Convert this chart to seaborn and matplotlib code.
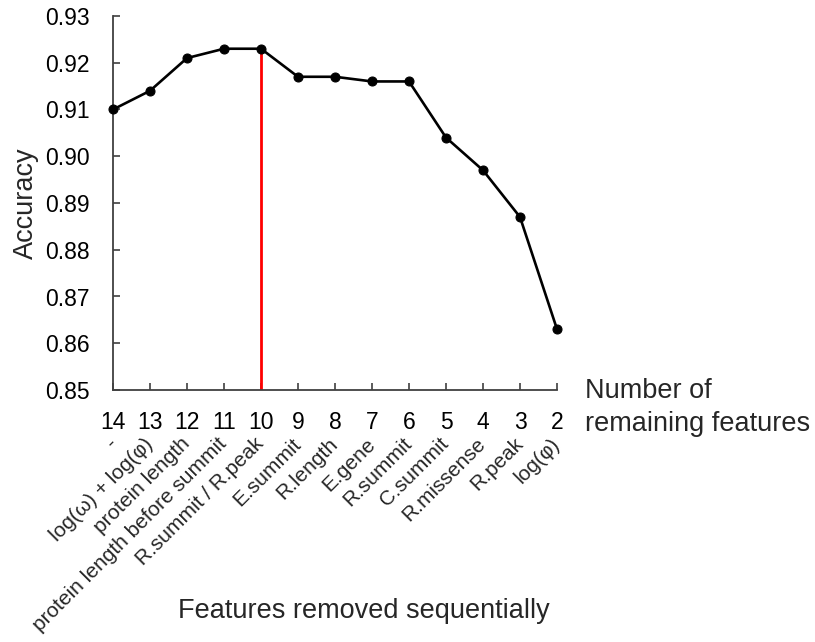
import matplotlib
matplotlib.use("Agg")
import matplotlib.pyplot as plt
import matplotlib.transforms as mtransforms
import seaborn as sns
import pandas as pd

# Number of features left in the model after each elimination step
remaining = [14, 13, 12, 11, 10, 9, 8, 7, 6, 5, 4, 3, 2]
# Feature dropped at each step
removed = ["-", "log(\u03c9) + log(\u03c6)", "protein length",
           "protein length before summit", "R.summit / R.peak", "E.summit",
           "R.length", "E.gene", "R.summit", "C.summit", "R.missense",
           "R.peak", "log(\u03c6)"]
# Classification accuracy at each step
accuracy = [0.910, 0.914, 0.921, 0.923, 0.923, 0.917, 0.917, 0.916, 0.916,
            0.904, 0.897, 0.887, 0.863]
best_n = 10
y_ticks = [0.85, 0.86, 0.87, 0.88, 0.89, 0.90, 0.91, 0.92, 0.93]

df = pd.DataFrame({"remaining": remaining, "accuracy": accuracy,
                   "removed": removed})

sns.set_style("ticks")
plt.rcParams["font.family"] = ["Liberation Sans", "DejaVu Sans"]

fig = plt.figure(figsize=(8.15, 6.42), dpi=100)
ax = fig.add_axes([113 / 815, 1 - 390 / 642, 444 / 815, 374 / 642])

best_acc = df.loc[df["remaining"] == best_n, "accuracy"].iloc[0]
ax.vlines(best_n, y_ticks[0], best_acc, color="red", linewidth=2, zorder=1)

sns.lineplot(data=df, x="remaining", y="accuracy", ax=ax, color="black",
             linewidth=1.9, marker="o", markersize=6.5, markeredgecolor="black",
             zorder=3, clip_on=False)

ax.set_xlim(14, 2)
ax.set_ylim(y_ticks[0], y_ticks[-1])
ax.set_xticks(remaining)
ax.set_xticklabels([str(n) for n in remaining])
ax.set_yticks(y_ticks)
ax.set_yticklabels([f"{v:.2f}" for v in y_ticks])

sns.despine(ax=ax)
for side in ("left", "bottom"):
    ax.spines[side].set_color("#404040")
    ax.spines[side].set_linewidth(1.3)

ax.tick_params(axis="both", direction="in", length=5, width=1.2,
               color="#404040", labelsize=16.5, labelcolor="black")
ax.tick_params(axis="y", pad=17)
ax.tick_params(axis="x", pad=15)

ax.set_xlabel("")
ax.set_ylabel("Accuracy", fontsize=19.5, labelpad=4)

# Names of the removed features, slanted under the step numbers
offset = mtransforms.offset_copy(ax.get_xaxis_transform(), fig=fig,
                                 x=0, y=-51, units="dots")
for n, name in zip(remaining, removed):
    ax.text(n, 0, name, transform=offset, rotation=45, rotation_mode="anchor",
            ha="right", va="center", fontsize=15, clip_on=False)

fig.text(585 / 815, 1 - 398 / 642, "Number of",
         fontsize=19.5, ha="left", va="baseline")
fig.text(585 / 815, 1 - 431 / 642, "remaining features",
         fontsize=19.5, ha="left", va="baseline")
fig.text(364 / 815, 1 - 618 / 642, "Features removed sequentially",
         fontsize=19.5, ha="center", va="baseline")

fig.savefig("out.png", dpi=100)
